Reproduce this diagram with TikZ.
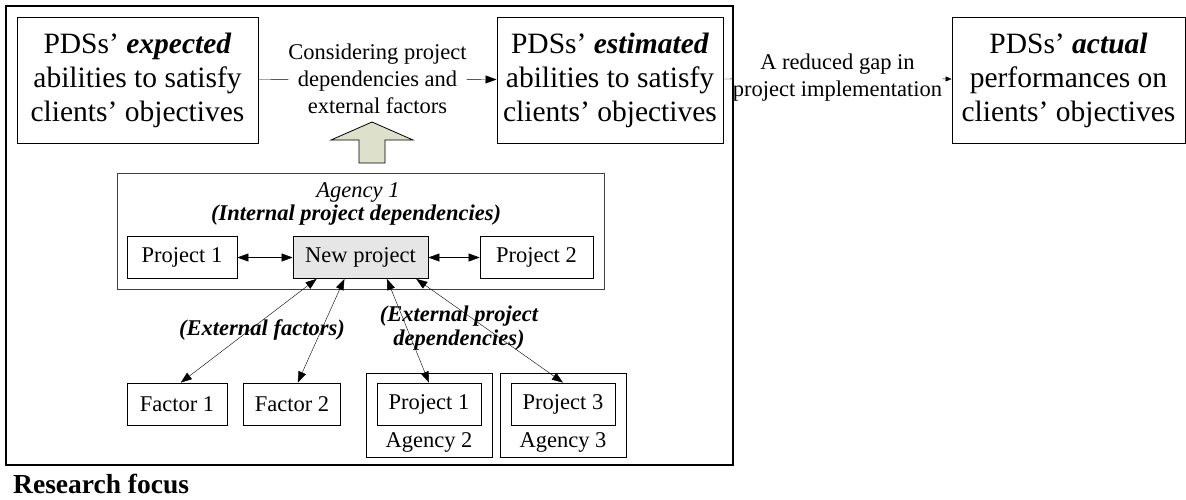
\documentclass[tikz,border=0pt]{standalone}
\usepackage{fontspec}
\setmainfont{Liberation Serif}
\usetikzlibrary{arrows.meta}
\definecolor{arrowgreen}{RGB}{221,224,203}
\definecolor{newgray}{RGB}{230,230,230}
\begin{document}
\begin{tikzpicture}[x=1pt,y=-1pt,%
        every node/.style={font=\fontsize{22.5}{27}\selectfont,inner sep=0pt},
        bigbox/.style={draw,line width=0.9pt,align=center,minimum
          height=126pt,font=\fontsize{29.5}{34}\selectfont},%
        prj/.style={draw,line width=0.8pt,minimum height=42pt},%
        lbl/.style={align=center,font=\fontsize{22.5}{24}\selectfont\bfseries\itshape},%
        tip/.style={-{Triangle[length=11pt,width=8pt]}},%
        dtip/.style={{Triangle[length=11pt,width=8pt]}-{Triangle[length=11pt,width=8pt]}}]%
        \useasboundingbox (0,0) rectangle (1186,499);
        \draw[line width=1.4pt] (6,6) rectangle (733,465); \node[anchor=base
        west,font=\fontsize{27.5}{32}\selectfont\bfseries] (focus) at (13,493)
        {Research focus};
        \node[bigbox,minimum width=241pt] (expected) at (137.5,80) {PDSs'
          \textbf{\textit{expected}}\\abilities to satisfy\\clients'
          objectives}; \node[bigbox,minimum width=226pt] (estimated) at
        (610,80) {PDSs' \textbf{\textit{estimated}}\\abilities to
          satisfy\\clients' objectives}; \node[bigbox,minimum width=233pt]
        (actual) at (1068.5,80) {PDSs' \textbf{\textit{actual}}\\performances
          on\\clients' objectives};
        \node[align=center] (consider) at (377.5,79) {Considering
          project\\dependencies and\\external factors}; \node[align=center]
        (gap) at (837.5,78) {A reduced gap in\\project implementation};
        \draw (expected) -- (consider); \draw[tip] (consider) -- (estimated);
        \draw (estimated) -- (gap); \draw[-{Triangle[length=6pt,width=5pt]}]
        (gap) -- (actual);
        \draw[fill=arrowgreen,line width=0.8pt] (359,163) -- (359,140) --
        (331,140) -- (372,122) -- (413,140) -- (385,140) -- (385,163) --
        cycle;
        \node[draw=black!75,line width=0.9pt,minimum width=487pt,minimum
        height=116pt] (agency1) at (360.5,231) {}; \node[anchor=base,
        font=\fontsize{22.5}{27}\selectfont\itshape] (agname) at (358,197)
        {Agency 1}; \node[lbl,anchor=base] (internal) at (356,220) {(Internal
          project dependencies)};
        \node[prj,minimum width=110pt] (proj1) at (182,257.5) {Project 1};
        \node[prj,fill=newgray,minimum width=135pt] (newproj) at (360.5,257.5)
        {New project}; \node[prj,minimum width=113pt] (proj2) at
        (536.5,257.5) {Project 2}; \draw[dtip] (proj1) -- (newproj);
        \draw[dtip] (newproj) -- (proj2);
        \node[prj,minimum width=100pt] (factor1) at (177,404) {Factor 1};
        \node[prj,minimum width=97pt] (factor2) at (292,404) {Factor 2};
        \node[draw,line width=0.8pt,minimum width=126pt,minimum height=84pt]
        (agency2) at (429,415) {}; \node[prj,minimum width=104pt] (projb) at
        (429,404) {Project 1}; \node[anchor=base] (agtwo) at (429,447) {Agency
          2}; \node[draw,line width=0.8pt,minimum width=126pt,minimum
        height=84pt] (agency3) at (563,415) {}; \node[prj,minimum width=104pt]
        (projc) at (563,404) {Project 3}; \node[anchor=base] (agthree) at
        (563,447) {Agency 3};
        \node[lbl] (extfac) at (262,330) {(External factors)}; \node[lbl]
        (extdep) at (459,328) {(External project\\dependencies)};
        \draw[dtip] (newproj.-154.8) -- (factor1.80); \draw[dtip]
        (newproj.-127.1) -- (factor2.75); \draw[dtip] (newproj.-39.9) --
        (projb.north); \draw[dtip] (newproj.-21.3) -- (projc.north);
      \end{tikzpicture}
\end{document}
